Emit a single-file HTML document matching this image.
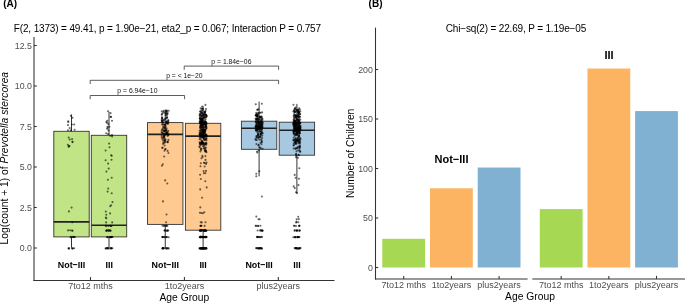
<!DOCTYPE html>
<html><head><meta charset="utf-8"><style>
html,body{margin:0;padding:0;background:#fff;width:685px;height:303px;overflow:hidden;}
svg{display:block;font-family:"Liberation Sans", sans-serif;will-change:transform;}
</style></head><body>
<svg width="685" height="303" viewBox="0 0 685 303">
<rect width="685" height="303" fill="#fff"/>
<text x="3.2" y="6.9" font-size="10" font-weight="bold">(A)</text>
<text x="368.6" y="7.3" font-size="10" font-weight="bold">(B)</text>
<text x="13.8" y="31.7" font-size="10" textLength="307.3" lengthAdjust="spacing">F(2, 1373) = 49.41, p = 1.90e−21, eta2_p = 0.067; Interaction P = 0.757</text>
<text x="516" y="31.5" font-size="10" text-anchor="middle" textLength="140.4" lengthAdjust="spacing">Chi−sq(2) = 22.69, P = 1.19e−05</text>
<line x1="34" y1="37" x2="34" y2="281" stroke="#333333" stroke-width="1.07"/>
<line x1="33.5" y1="280.5" x2="334.5" y2="280.5" stroke="#333333" stroke-width="1.07"/>
<line x1="34" y1="248.00" x2="36.8" y2="248.00" stroke="#333333" stroke-width="1.07"/>
<text x="31.9" y="251.10" font-size="8.8" fill="#4D4D4D" text-anchor="end">0.0</text>
<line x1="34" y1="207.50" x2="36.8" y2="207.50" stroke="#333333" stroke-width="1.07"/>
<text x="31.9" y="210.60" font-size="8.8" fill="#4D4D4D" text-anchor="end">2.5</text>
<line x1="34" y1="167.00" x2="36.8" y2="167.00" stroke="#333333" stroke-width="1.07"/>
<text x="31.9" y="170.10" font-size="8.8" fill="#4D4D4D" text-anchor="end">5.0</text>
<line x1="34" y1="126.50" x2="36.8" y2="126.50" stroke="#333333" stroke-width="1.07"/>
<text x="31.9" y="129.60" font-size="8.8" fill="#4D4D4D" text-anchor="end">7.5</text>
<line x1="34" y1="86.00" x2="36.8" y2="86.00" stroke="#333333" stroke-width="1.07"/>
<text x="31.9" y="89.10" font-size="8.8" fill="#4D4D4D" text-anchor="end">10.0</text>
<line x1="34" y1="45.50" x2="36.8" y2="45.50" stroke="#333333" stroke-width="1.07"/>
<text x="31.9" y="48.60" font-size="8.8" fill="#4D4D4D" text-anchor="end">12.5</text>
<line x1="90.5" y1="280.5" x2="90.5" y2="277.1" stroke="#333333" stroke-width="1.07"/>
<text transform="translate(90.5 288.8) scale(1 1.07)" font-size="9" fill="#4D4D4D" text-anchor="middle">7to12 mths</text>
<line x1="184.4" y1="280.5" x2="184.4" y2="277.1" stroke="#333333" stroke-width="1.07"/>
<text transform="translate(184.4 288.8) scale(1 1.07)" font-size="9" fill="#4D4D4D" text-anchor="middle">1to2years</text>
<line x1="278.3" y1="280.5" x2="278.3" y2="277.1" stroke="#333333" stroke-width="1.07"/>
<text transform="translate(278.3 288.8) scale(1 1.07)" font-size="9" fill="#4D4D4D" text-anchor="middle">plus2years</text>
<text x="184.4" y="300.9" font-size="10.3" text-anchor="middle">Age Group</text>
<text transform="translate(8.1 158.2) rotate(-90)" font-size="10.3" text-anchor="middle">Log(count + 1) of <tspan font-style="italic">Prevotella stercorea</tspan></text>
<line x1="71.5" y1="114.5" x2="71.5" y2="131.3" stroke="#333" stroke-width="1"/>
<line x1="71.5" y1="236.9" x2="71.5" y2="247.8" stroke="#333" stroke-width="1"/>
<rect x="53.80" y="131.3" width="35.40" height="105.60" fill="#C1E487" stroke="#333" stroke-width="0.9"/>
<line x1="53.80" y1="221.9" x2="89.20" y2="221.9" stroke="#222" stroke-width="1.6"/>
<line x1="109.0" y1="111.9" x2="109.0" y2="135.3" stroke="#333" stroke-width="1"/>
<line x1="109.0" y1="236.9" x2="109.0" y2="247.8" stroke="#333" stroke-width="1"/>
<rect x="91.30" y="135.3" width="35.40" height="101.60" fill="#C1E487" stroke="#333" stroke-width="0.9"/>
<line x1="91.30" y1="225.3" x2="126.70" y2="225.3" stroke="#222" stroke-width="1.6"/>
<line x1="165.25" y1="109.6" x2="165.25" y2="122.6" stroke="#333" stroke-width="1"/>
<line x1="165.25" y1="224.4" x2="165.25" y2="247.8" stroke="#333" stroke-width="1"/>
<rect x="147.55" y="122.6" width="35.40" height="101.80" fill="#FECA91" stroke="#333" stroke-width="0.9"/>
<line x1="147.55" y1="134.4" x2="182.95" y2="134.4" stroke="#222" stroke-width="1.6"/>
<line x1="203.1" y1="106.2" x2="203.1" y2="123.3" stroke="#333" stroke-width="1"/>
<line x1="203.1" y1="230.2" x2="203.1" y2="247.8" stroke="#333" stroke-width="1"/>
<rect x="185.40" y="123.3" width="35.40" height="106.90" fill="#FECA91" stroke="#333" stroke-width="0.9"/>
<line x1="185.40" y1="136.1" x2="220.80" y2="136.1" stroke="#222" stroke-width="1.6"/>
<line x1="259.1" y1="101.6" x2="259.1" y2="121.2" stroke="#333" stroke-width="1"/>
<line x1="259.1" y1="149.3" x2="259.1" y2="176.3" stroke="#333" stroke-width="1"/>
<rect x="241.40" y="121.2" width="35.40" height="28.10" fill="#A6C8E0" stroke="#333" stroke-width="0.9"/>
<line x1="241.40" y1="128.2" x2="276.80" y2="128.2" stroke="#222" stroke-width="1.6"/>
<line x1="296.9" y1="103.9" x2="296.9" y2="122.2" stroke="#333" stroke-width="1"/>
<line x1="296.9" y1="155.2" x2="296.9" y2="193.2" stroke="#333" stroke-width="1"/>
<rect x="279.20" y="122.2" width="35.40" height="33.00" fill="#A6C8E0" stroke="#333" stroke-width="0.9"/>
<line x1="279.20" y1="130.3" x2="314.60" y2="130.3" stroke="#222" stroke-width="1.6"/>
<g fill="#000" fill-opacity="0.58"><circle cx="72.8" cy="248.5" r="1.05"/><circle cx="69.1" cy="248.4" r="1.05"/><circle cx="68.7" cy="248.3" r="1.05"/><circle cx="72.5" cy="248.2" r="1.05"/><circle cx="74.2" cy="248.3" r="1.05"/><circle cx="72.1" cy="248.5" r="1.05"/><circle cx="68.7" cy="248.5" r="1.05"/><circle cx="72.4" cy="237.0" r="1.05"/><circle cx="73.6" cy="237.0" r="1.05"/><circle cx="75.0" cy="237.1" r="1.05"/><circle cx="70.5" cy="237.2" r="1.05"/><circle cx="71.1" cy="236.9" r="1.05"/><circle cx="73.3" cy="236.9" r="1.05"/><circle cx="73.8" cy="237.0" r="1.05"/><circle cx="72.5" cy="230.7" r="1.05"/><circle cx="72.1" cy="230.6" r="1.05"/><circle cx="70.2" cy="230.3" r="1.05"/><circle cx="68.1" cy="230.4" r="1.05"/><circle cx="72.3" cy="222.2" r="1.05"/><circle cx="71.6" cy="207.6" r="1.05"/><circle cx="68.9" cy="211.4" r="1.05"/><circle cx="72.6" cy="142.1" r="1.05"/><circle cx="67.9" cy="144.8" r="1.05"/><circle cx="68.7" cy="137.5" r="1.05"/><circle cx="69.5" cy="146.0" r="1.05"/><circle cx="72.1" cy="139.1" r="1.05"/><circle cx="72.4" cy="141.7" r="1.05"/><circle cx="68.9" cy="146.4" r="1.05"/><circle cx="69.7" cy="139.5" r="1.05"/><circle cx="68.6" cy="146.6" r="1.05"/><circle cx="74.2" cy="124.5" r="1.05"/><circle cx="70.8" cy="130.4" r="1.05"/><circle cx="68.0" cy="130.2" r="1.05"/><circle cx="71.9" cy="124.5" r="1.05"/><circle cx="72.5" cy="117.8" r="1.05"/><circle cx="74.6" cy="129.7" r="1.05"/><circle cx="69.7" cy="128.1" r="1.05"/><circle cx="68.2" cy="121.2" r="1.05"/><circle cx="70.8" cy="115.7" r="1.05"/><circle cx="68.3" cy="122.1" r="1.05"/><circle cx="68.0" cy="125.1" r="1.05"/><circle cx="112.4" cy="248.2" r="1.05"/><circle cx="107.0" cy="248.3" r="1.05"/><circle cx="109.3" cy="248.4" r="1.05"/><circle cx="111.5" cy="248.2" r="1.05"/><circle cx="107.8" cy="248.2" r="1.05"/><circle cx="105.9" cy="248.5" r="1.05"/><circle cx="111.2" cy="248.4" r="1.05"/><circle cx="105.6" cy="248.4" r="1.05"/><circle cx="111.0" cy="248.3" r="1.05"/><circle cx="110.9" cy="248.3" r="1.05"/><circle cx="107.2" cy="248.1" r="1.05"/><circle cx="107.3" cy="248.1" r="1.05"/><circle cx="108.0" cy="248.4" r="1.05"/><circle cx="110.6" cy="237.2" r="1.05"/><circle cx="110.7" cy="237.0" r="1.05"/><circle cx="109.6" cy="237.0" r="1.05"/><circle cx="111.3" cy="237.1" r="1.05"/><circle cx="107.5" cy="237.1" r="1.05"/><circle cx="112.5" cy="237.0" r="1.05"/><circle cx="111.9" cy="236.9" r="1.05"/><circle cx="107.5" cy="237.0" r="1.05"/><circle cx="111.0" cy="237.2" r="1.05"/><circle cx="111.0" cy="237.0" r="1.05"/><circle cx="111.9" cy="237.0" r="1.05"/><circle cx="107.3" cy="237.2" r="1.05"/><circle cx="110.1" cy="237.1" r="1.05"/><circle cx="110.4" cy="230.7" r="1.05"/><circle cx="109.0" cy="230.6" r="1.05"/><circle cx="110.6" cy="230.6" r="1.05"/><circle cx="108.7" cy="230.6" r="1.05"/><circle cx="109.7" cy="230.4" r="1.05"/><circle cx="107.1" cy="230.6" r="1.05"/><circle cx="106.2" cy="230.7" r="1.05"/><circle cx="106.6" cy="230.3" r="1.05"/><circle cx="106.4" cy="230.7" r="1.05"/><circle cx="108.1" cy="230.4" r="1.05"/><circle cx="105.8" cy="225.7" r="1.05"/><circle cx="110.6" cy="225.9" r="1.05"/><circle cx="110.6" cy="225.9" r="1.05"/><circle cx="106.1" cy="225.9" r="1.05"/><circle cx="108.2" cy="226.0" r="1.05"/><circle cx="111.5" cy="226.0" r="1.05"/><circle cx="106.1" cy="222.4" r="1.05"/><circle cx="112.2" cy="222.4" r="1.05"/><circle cx="106.4" cy="171.6" r="1.05"/><circle cx="106.4" cy="218.2" r="1.05"/><circle cx="111.7" cy="177.8" r="1.05"/><circle cx="110.2" cy="206.3" r="1.05"/><circle cx="110.1" cy="213.4" r="1.05"/><circle cx="106.3" cy="214.7" r="1.05"/><circle cx="111.1" cy="205.2" r="1.05"/><circle cx="107.9" cy="179.7" r="1.05"/><circle cx="105.8" cy="211.6" r="1.05"/><circle cx="107.6" cy="191.6" r="1.05"/><circle cx="108.2" cy="188.6" r="1.05"/><circle cx="112.5" cy="202.1" r="1.05"/><circle cx="111.7" cy="193.3" r="1.05"/><circle cx="105.8" cy="217.6" r="1.05"/><circle cx="108.7" cy="168.6" r="1.05"/><circle cx="108.1" cy="163.6" r="1.05"/><circle cx="109.5" cy="147.3" r="1.05"/><circle cx="111.8" cy="155.8" r="1.05"/><circle cx="111.5" cy="159.7" r="1.05"/><circle cx="105.6" cy="150.5" r="1.05"/><circle cx="111.1" cy="155.3" r="1.05"/><circle cx="105.6" cy="160.3" r="1.05"/><circle cx="109.1" cy="143.6" r="1.05"/><circle cx="106.9" cy="122.8" r="1.05"/><circle cx="108.1" cy="134.1" r="1.05"/><circle cx="107.5" cy="126.7" r="1.05"/><circle cx="107.6" cy="127.7" r="1.05"/><circle cx="110.6" cy="116.9" r="1.05"/><circle cx="106.4" cy="121.9" r="1.05"/><circle cx="106.2" cy="133.3" r="1.05"/><circle cx="110.6" cy="113.1" r="1.05"/><circle cx="110.1" cy="135.7" r="1.05"/><circle cx="108.5" cy="130.5" r="1.05"/><circle cx="112.0" cy="120.8" r="1.05"/><circle cx="112.0" cy="135.1" r="1.05"/><circle cx="107.1" cy="128.7" r="1.05"/><circle cx="112.1" cy="136.4" r="1.05"/><circle cx="108.3" cy="123.9" r="1.05"/><circle cx="107.3" cy="120.7" r="1.05"/><circle cx="109.4" cy="126.7" r="1.05"/><circle cx="111.0" cy="116.9" r="1.05"/><circle cx="108.1" cy="111.3" r="1.05"/><circle cx="162.8" cy="248.4" r="1.05"/><circle cx="166.4" cy="248.4" r="1.05"/><circle cx="162.9" cy="248.3" r="1.05"/><circle cx="167.2" cy="248.3" r="1.05"/><circle cx="162.6" cy="248.3" r="1.05"/><circle cx="168.0" cy="248.2" r="1.05"/><circle cx="163.0" cy="248.2" r="1.05"/><circle cx="166.7" cy="248.4" r="1.05"/><circle cx="162.8" cy="248.2" r="1.05"/><circle cx="163.4" cy="248.2" r="1.05"/><circle cx="165.4" cy="248.2" r="1.05"/><circle cx="164.0" cy="248.2" r="1.05"/><circle cx="168.7" cy="248.4" r="1.05"/><circle cx="162.4" cy="248.5" r="1.05"/><circle cx="162.4" cy="237.0" r="1.05"/><circle cx="168.7" cy="237.2" r="1.05"/><circle cx="166.9" cy="237.0" r="1.05"/><circle cx="163.1" cy="237.1" r="1.05"/><circle cx="162.4" cy="237.0" r="1.05"/><circle cx="164.4" cy="236.9" r="1.05"/><circle cx="164.5" cy="237.2" r="1.05"/><circle cx="166.6" cy="237.1" r="1.05"/><circle cx="166.2" cy="237.1" r="1.05"/><circle cx="162.7" cy="237.1" r="1.05"/><circle cx="164.6" cy="230.6" r="1.05"/><circle cx="168.2" cy="230.5" r="1.05"/><circle cx="165.8" cy="230.6" r="1.05"/><circle cx="164.7" cy="230.4" r="1.05"/><circle cx="166.8" cy="230.7" r="1.05"/><circle cx="167.2" cy="230.6" r="1.05"/><circle cx="167.8" cy="230.6" r="1.05"/><circle cx="166.3" cy="225.8" r="1.05"/><circle cx="163.9" cy="225.9" r="1.05"/><circle cx="162.4" cy="225.8" r="1.05"/><circle cx="167.3" cy="225.9" r="1.05"/><circle cx="166.2" cy="225.7" r="1.05"/><circle cx="164.7" cy="225.8" r="1.05"/><circle cx="166.1" cy="222.2" r="1.05"/><circle cx="166.5" cy="214.5" r="1.05"/><circle cx="163.0" cy="201.4" r="1.05"/><circle cx="167.3" cy="183.5" r="1.05"/><circle cx="165.2" cy="180.4" r="1.05"/><circle cx="161.9" cy="165.7" r="1.05"/><circle cx="162.8" cy="164.2" r="1.05"/><circle cx="168.4" cy="153.0" r="1.05"/><circle cx="162.4" cy="147.5" r="1.05"/><circle cx="165.5" cy="149.0" r="1.05"/><circle cx="165.3" cy="149.2" r="1.05"/><circle cx="167.6" cy="150.9" r="1.05"/><circle cx="164.6" cy="145.5" r="1.05"/><circle cx="163.2" cy="143.9" r="1.05"/><circle cx="164.5" cy="150.8" r="1.05"/><circle cx="162.5" cy="148.1" r="1.05"/><circle cx="164.2" cy="156.5" r="1.05"/><circle cx="163.6" cy="137.3" r="1.05"/><circle cx="161.7" cy="137.7" r="1.05"/><circle cx="164.7" cy="135.0" r="1.05"/><circle cx="164.2" cy="136.2" r="1.05"/><circle cx="163.3" cy="140.8" r="1.05"/><circle cx="168.4" cy="139.9" r="1.05"/><circle cx="163.2" cy="137.7" r="1.05"/><circle cx="164.5" cy="142.7" r="1.05"/><circle cx="162.6" cy="139.4" r="1.05"/><circle cx="167.5" cy="141.7" r="1.05"/><circle cx="165.0" cy="142.1" r="1.05"/><circle cx="163.3" cy="142.7" r="1.05"/><circle cx="164.2" cy="136.8" r="1.05"/><circle cx="167.5" cy="142.1" r="1.05"/><circle cx="165.0" cy="140.9" r="1.05"/><circle cx="165.6" cy="139.7" r="1.05"/><circle cx="167.7" cy="135.9" r="1.05"/><circle cx="167.8" cy="142.3" r="1.05"/><circle cx="164.4" cy="139.3" r="1.05"/><circle cx="164.7" cy="138.4" r="1.05"/><circle cx="161.7" cy="135.9" r="1.05"/><circle cx="163.7" cy="136.3" r="1.05"/><circle cx="163.8" cy="136.0" r="1.05"/><circle cx="164.7" cy="140.8" r="1.05"/><circle cx="166.4" cy="129.9" r="1.05"/><circle cx="168.3" cy="130.8" r="1.05"/><circle cx="162.1" cy="124.6" r="1.05"/><circle cx="168.2" cy="123.7" r="1.05"/><circle cx="162.7" cy="133.2" r="1.05"/><circle cx="166.2" cy="132.6" r="1.05"/><circle cx="161.7" cy="132.3" r="1.05"/><circle cx="166.4" cy="132.0" r="1.05"/><circle cx="162.4" cy="129.0" r="1.05"/><circle cx="163.3" cy="128.0" r="1.05"/><circle cx="164.1" cy="131.7" r="1.05"/><circle cx="168.2" cy="135.0" r="1.05"/><circle cx="162.9" cy="130.1" r="1.05"/><circle cx="166.0" cy="130.6" r="1.05"/><circle cx="166.5" cy="128.4" r="1.05"/><circle cx="167.3" cy="123.8" r="1.05"/><circle cx="163.1" cy="126.8" r="1.05"/><circle cx="165.5" cy="128.9" r="1.05"/><circle cx="164.8" cy="127.7" r="1.05"/><circle cx="165.6" cy="126.8" r="1.05"/><circle cx="163.3" cy="134.1" r="1.05"/><circle cx="165.2" cy="124.1" r="1.05"/><circle cx="165.0" cy="125.5" r="1.05"/><circle cx="165.2" cy="124.6" r="1.05"/><circle cx="165.5" cy="125.6" r="1.05"/><circle cx="161.7" cy="130.4" r="1.05"/><circle cx="165.0" cy="130.2" r="1.05"/><circle cx="166.4" cy="133.8" r="1.05"/><circle cx="164.3" cy="127.4" r="1.05"/><circle cx="168.6" cy="134.0" r="1.05"/><circle cx="166.2" cy="134.2" r="1.05"/><circle cx="161.9" cy="132.5" r="1.05"/><circle cx="166.6" cy="133.2" r="1.05"/><circle cx="164.0" cy="131.1" r="1.05"/><circle cx="165.3" cy="134.3" r="1.05"/><circle cx="168.1" cy="134.7" r="1.05"/><circle cx="166.8" cy="133.2" r="1.05"/><circle cx="164.1" cy="133.8" r="1.05"/><circle cx="164.3" cy="130.6" r="1.05"/><circle cx="165.4" cy="134.7" r="1.05"/><circle cx="163.2" cy="124.5" r="1.05"/><circle cx="164.7" cy="127.7" r="1.05"/><circle cx="167.6" cy="133.1" r="1.05"/><circle cx="167.6" cy="131.9" r="1.05"/><circle cx="165.3" cy="130.7" r="1.05"/><circle cx="165.3" cy="130.8" r="1.05"/><circle cx="166.4" cy="133.6" r="1.05"/><circle cx="164.0" cy="124.8" r="1.05"/><circle cx="163.8" cy="110.7" r="1.05"/><circle cx="166.2" cy="118.6" r="1.05"/><circle cx="161.9" cy="118.3" r="1.05"/><circle cx="168.0" cy="122.6" r="1.05"/><circle cx="162.0" cy="122.4" r="1.05"/><circle cx="161.7" cy="119.9" r="1.05"/><circle cx="168.3" cy="120.9" r="1.05"/><circle cx="166.4" cy="113.4" r="1.05"/><circle cx="168.2" cy="122.0" r="1.05"/><circle cx="166.1" cy="123.0" r="1.05"/><circle cx="166.7" cy="111.4" r="1.05"/><circle cx="166.6" cy="117.5" r="1.05"/><circle cx="166.5" cy="122.0" r="1.05"/><circle cx="167.1" cy="117.3" r="1.05"/><circle cx="163.0" cy="122.8" r="1.05"/><circle cx="167.2" cy="117.8" r="1.05"/><circle cx="166.4" cy="110.9" r="1.05"/><circle cx="167.6" cy="112.9" r="1.05"/><circle cx="165.7" cy="115.2" r="1.05"/><circle cx="163.8" cy="120.9" r="1.05"/><circle cx="163.9" cy="119.7" r="1.05"/><circle cx="166.3" cy="122.0" r="1.05"/><circle cx="162.0" cy="114.2" r="1.05"/><circle cx="161.9" cy="117.4" r="1.05"/><circle cx="167.5" cy="114.1" r="1.05"/><circle cx="168.3" cy="120.1" r="1.05"/><circle cx="161.8" cy="121.3" r="1.05"/><circle cx="165.9" cy="113.7" r="1.05"/><circle cx="168.7" cy="110.8" r="1.05"/><circle cx="164.6" cy="112.8" r="1.05"/><circle cx="166.3" cy="113.5" r="1.05"/><circle cx="162.7" cy="113.3" r="1.05"/><circle cx="161.7" cy="114.7" r="1.05"/><circle cx="162.5" cy="121.4" r="1.05"/><circle cx="162.3" cy="117.9" r="1.05"/><circle cx="162.6" cy="119.6" r="1.05"/><circle cx="166.8" cy="122.8" r="1.05"/><circle cx="166.9" cy="122.8" r="1.05"/><circle cx="162.0" cy="120.8" r="1.05"/><circle cx="166.8" cy="121.1" r="1.05"/><circle cx="166.9" cy="115.2" r="1.05"/><circle cx="166.2" cy="111.4" r="1.05"/><circle cx="165.0" cy="118.9" r="1.05"/><circle cx="163.5" cy="111.8" r="1.05"/><circle cx="166.8" cy="110.6" r="1.05"/><circle cx="161.8" cy="111.4" r="1.05"/><circle cx="205.4" cy="248.1" r="1.05"/><circle cx="201.7" cy="248.4" r="1.05"/><circle cx="200.7" cy="248.4" r="1.05"/><circle cx="203.0" cy="248.1" r="1.05"/><circle cx="202.1" cy="248.3" r="1.05"/><circle cx="202.7" cy="248.4" r="1.05"/><circle cx="200.5" cy="248.4" r="1.05"/><circle cx="202.1" cy="248.4" r="1.05"/><circle cx="204.0" cy="248.3" r="1.05"/><circle cx="202.3" cy="248.4" r="1.05"/><circle cx="206.3" cy="248.4" r="1.05"/><circle cx="203.6" cy="248.2" r="1.05"/><circle cx="199.9" cy="248.5" r="1.05"/><circle cx="204.6" cy="248.4" r="1.05"/><circle cx="201.9" cy="248.3" r="1.05"/><circle cx="206.5" cy="248.4" r="1.05"/><circle cx="203.8" cy="248.2" r="1.05"/><circle cx="202.6" cy="248.5" r="1.05"/><circle cx="202.2" cy="248.4" r="1.05"/><circle cx="203.8" cy="248.5" r="1.05"/><circle cx="205.3" cy="248.2" r="1.05"/><circle cx="199.5" cy="248.2" r="1.05"/><circle cx="202.5" cy="248.3" r="1.05"/><circle cx="205.4" cy="248.5" r="1.05"/><circle cx="199.8" cy="248.4" r="1.05"/><circle cx="205.3" cy="248.4" r="1.05"/><circle cx="203.6" cy="248.2" r="1.05"/><circle cx="205.6" cy="248.4" r="1.05"/><circle cx="204.4" cy="248.5" r="1.05"/><circle cx="202.0" cy="248.1" r="1.05"/><circle cx="203.5" cy="248.4" r="1.05"/><circle cx="200.9" cy="248.4" r="1.05"/><circle cx="206.2" cy="248.2" r="1.05"/><circle cx="203.9" cy="248.4" r="1.05"/><circle cx="202.9" cy="248.2" r="1.05"/><circle cx="201.3" cy="248.4" r="1.05"/><circle cx="205.2" cy="237.1" r="1.05"/><circle cx="200.1" cy="237.2" r="1.05"/><circle cx="205.1" cy="237.0" r="1.05"/><circle cx="203.7" cy="237.2" r="1.05"/><circle cx="205.9" cy="237.1" r="1.05"/><circle cx="202.9" cy="237.1" r="1.05"/><circle cx="200.9" cy="236.9" r="1.05"/><circle cx="200.8" cy="237.2" r="1.05"/><circle cx="202.1" cy="237.1" r="1.05"/><circle cx="202.4" cy="237.1" r="1.05"/><circle cx="200.6" cy="236.9" r="1.05"/><circle cx="206.7" cy="237.0" r="1.05"/><circle cx="200.3" cy="237.1" r="1.05"/><circle cx="205.2" cy="236.9" r="1.05"/><circle cx="203.8" cy="237.0" r="1.05"/><circle cx="203.2" cy="236.9" r="1.05"/><circle cx="199.7" cy="237.3" r="1.05"/><circle cx="205.7" cy="237.1" r="1.05"/><circle cx="203.6" cy="237.0" r="1.05"/><circle cx="205.1" cy="237.0" r="1.05"/><circle cx="206.3" cy="237.2" r="1.05"/><circle cx="205.4" cy="237.3" r="1.05"/><circle cx="201.3" cy="236.9" r="1.05"/><circle cx="200.9" cy="236.9" r="1.05"/><circle cx="200.1" cy="236.9" r="1.05"/><circle cx="203.5" cy="237.2" r="1.05"/><circle cx="202.8" cy="237.2" r="1.05"/><circle cx="206.1" cy="236.9" r="1.05"/><circle cx="203.8" cy="237.0" r="1.05"/><circle cx="200.4" cy="237.3" r="1.05"/><circle cx="201.4" cy="237.1" r="1.05"/><circle cx="204.1" cy="237.3" r="1.05"/><circle cx="204.3" cy="237.0" r="1.05"/><circle cx="202.7" cy="236.9" r="1.05"/><circle cx="206.5" cy="230.7" r="1.05"/><circle cx="201.1" cy="230.3" r="1.05"/><circle cx="201.3" cy="230.4" r="1.05"/><circle cx="206.0" cy="230.7" r="1.05"/><circle cx="205.5" cy="230.3" r="1.05"/><circle cx="205.2" cy="230.6" r="1.05"/><circle cx="204.2" cy="230.7" r="1.05"/><circle cx="199.9" cy="230.4" r="1.05"/><circle cx="204.9" cy="230.7" r="1.05"/><circle cx="204.4" cy="230.4" r="1.05"/><circle cx="203.8" cy="230.6" r="1.05"/><circle cx="200.3" cy="230.4" r="1.05"/><circle cx="201.4" cy="230.4" r="1.05"/><circle cx="203.0" cy="230.4" r="1.05"/><circle cx="201.2" cy="230.4" r="1.05"/><circle cx="204.4" cy="230.3" r="1.05"/><circle cx="204.7" cy="230.4" r="1.05"/><circle cx="199.8" cy="230.7" r="1.05"/><circle cx="201.1" cy="230.7" r="1.05"/><circle cx="205.7" cy="230.7" r="1.05"/><circle cx="200.5" cy="230.5" r="1.05"/><circle cx="200.2" cy="230.7" r="1.05"/><circle cx="205.6" cy="230.6" r="1.05"/><circle cx="202.8" cy="230.4" r="1.05"/><circle cx="205.4" cy="230.5" r="1.05"/><circle cx="204.0" cy="230.4" r="1.05"/><circle cx="201.1" cy="225.7" r="1.05"/><circle cx="204.6" cy="225.9" r="1.05"/><circle cx="200.5" cy="226.0" r="1.05"/><circle cx="201.4" cy="225.8" r="1.05"/><circle cx="200.6" cy="225.8" r="1.05"/><circle cx="205.5" cy="222.2" r="1.05"/><circle cx="200.7" cy="222.2" r="1.05"/><circle cx="201.8" cy="222.4" r="1.05"/><circle cx="200.3" cy="207.4" r="1.05"/><circle cx="199.9" cy="212.7" r="1.05"/><circle cx="204.3" cy="212.2" r="1.05"/><circle cx="202.9" cy="213.3" r="1.05"/><circle cx="201.4" cy="213.0" r="1.05"/><circle cx="202.1" cy="197.7" r="1.05"/><circle cx="206.7" cy="187.4" r="1.05"/><circle cx="200.2" cy="189.4" r="1.05"/><circle cx="206.0" cy="170.9" r="1.05"/><circle cx="204.7" cy="166.5" r="1.05"/><circle cx="206.5" cy="162.6" r="1.05"/><circle cx="205.3" cy="181.2" r="1.05"/><circle cx="200.5" cy="166.2" r="1.05"/><circle cx="205.5" cy="159.9" r="1.05"/><circle cx="200.8" cy="163.2" r="1.05"/><circle cx="206.1" cy="163.9" r="1.05"/><circle cx="203.6" cy="171.0" r="1.05"/><circle cx="200.8" cy="179.0" r="1.05"/><circle cx="204.6" cy="162.9" r="1.05"/><circle cx="200.1" cy="174.7" r="1.05"/><circle cx="203.9" cy="162.7" r="1.05"/><circle cx="201.5" cy="158.2" r="1.05"/><circle cx="203.9" cy="173.3" r="1.05"/><circle cx="205.3" cy="173.1" r="1.05"/><circle cx="201.0" cy="137.0" r="1.05"/><circle cx="204.8" cy="140.2" r="1.05"/><circle cx="204.7" cy="150.1" r="1.05"/><circle cx="205.3" cy="151.4" r="1.05"/><circle cx="205.6" cy="150.9" r="1.05"/><circle cx="203.0" cy="137.6" r="1.05"/><circle cx="206.1" cy="139.1" r="1.05"/><circle cx="205.8" cy="150.8" r="1.05"/><circle cx="200.8" cy="138.9" r="1.05"/><circle cx="202.1" cy="136.6" r="1.05"/><circle cx="202.2" cy="141.2" r="1.05"/><circle cx="199.5" cy="146.4" r="1.05"/><circle cx="202.7" cy="142.9" r="1.05"/><circle cx="200.4" cy="151.4" r="1.05"/><circle cx="205.4" cy="156.1" r="1.05"/><circle cx="201.8" cy="137.0" r="1.05"/><circle cx="202.2" cy="141.4" r="1.05"/><circle cx="199.9" cy="143.4" r="1.05"/><circle cx="206.4" cy="137.4" r="1.05"/><circle cx="203.2" cy="144.8" r="1.05"/><circle cx="203.4" cy="138.0" r="1.05"/><circle cx="206.5" cy="138.7" r="1.05"/><circle cx="200.8" cy="149.1" r="1.05"/><circle cx="201.3" cy="148.5" r="1.05"/><circle cx="199.7" cy="147.3" r="1.05"/><circle cx="204.5" cy="148.5" r="1.05"/><circle cx="199.6" cy="142.3" r="1.05"/><circle cx="203.7" cy="148.2" r="1.05"/><circle cx="204.6" cy="144.9" r="1.05"/><circle cx="205.8" cy="151.4" r="1.05"/><circle cx="199.8" cy="137.5" r="1.05"/><circle cx="203.1" cy="146.3" r="1.05"/><circle cx="201.5" cy="144.2" r="1.05"/><circle cx="202.4" cy="142.2" r="1.05"/><circle cx="203.8" cy="137.9" r="1.05"/><circle cx="200.6" cy="145.1" r="1.05"/><circle cx="204.9" cy="137.4" r="1.05"/><circle cx="205.4" cy="143.8" r="1.05"/><circle cx="202.3" cy="143.1" r="1.05"/><circle cx="205.5" cy="143.3" r="1.05"/><circle cx="202.3" cy="155.8" r="1.05"/><circle cx="205.1" cy="144.6" r="1.05"/><circle cx="201.2" cy="149.9" r="1.05"/><circle cx="202.6" cy="157.0" r="1.05"/><circle cx="205.3" cy="139.3" r="1.05"/><circle cx="205.4" cy="150.4" r="1.05"/><circle cx="199.9" cy="144.1" r="1.05"/><circle cx="206.4" cy="140.4" r="1.05"/><circle cx="201.3" cy="142.7" r="1.05"/><circle cx="204.1" cy="146.8" r="1.05"/><circle cx="203.3" cy="143.2" r="1.05"/><circle cx="202.6" cy="142.8" r="1.05"/><circle cx="199.6" cy="139.2" r="1.05"/><circle cx="206.5" cy="152.2" r="1.05"/><circle cx="206.2" cy="142.8" r="1.05"/><circle cx="205.3" cy="148.6" r="1.05"/><circle cx="205.9" cy="147.6" r="1.05"/><circle cx="204.1" cy="139.5" r="1.05"/><circle cx="204.4" cy="143.5" r="1.05"/><circle cx="203.4" cy="142.9" r="1.05"/><circle cx="204.0" cy="139.6" r="1.05"/><circle cx="203.2" cy="137.6" r="1.05"/><circle cx="206.3" cy="144.6" r="1.05"/><circle cx="201.7" cy="141.9" r="1.05"/><circle cx="200.4" cy="143.6" r="1.05"/><circle cx="206.4" cy="143.5" r="1.05"/><circle cx="201.4" cy="140.7" r="1.05"/><circle cx="203.3" cy="144.4" r="1.05"/><circle cx="200.4" cy="143.0" r="1.05"/><circle cx="201.6" cy="144.0" r="1.05"/><circle cx="201.6" cy="124.4" r="1.05"/><circle cx="200.1" cy="127.6" r="1.05"/><circle cx="205.5" cy="125.3" r="1.05"/><circle cx="203.6" cy="124.5" r="1.05"/><circle cx="200.9" cy="133.3" r="1.05"/><circle cx="202.8" cy="129.4" r="1.05"/><circle cx="203.9" cy="124.4" r="1.05"/><circle cx="201.7" cy="125.7" r="1.05"/><circle cx="201.1" cy="134.8" r="1.05"/><circle cx="202.3" cy="135.0" r="1.05"/><circle cx="199.6" cy="130.8" r="1.05"/><circle cx="205.7" cy="135.5" r="1.05"/><circle cx="203.5" cy="133.4" r="1.05"/><circle cx="201.6" cy="135.8" r="1.05"/><circle cx="201.6" cy="128.1" r="1.05"/><circle cx="200.6" cy="126.3" r="1.05"/><circle cx="205.8" cy="125.0" r="1.05"/><circle cx="199.9" cy="134.5" r="1.05"/><circle cx="202.7" cy="127.4" r="1.05"/><circle cx="200.3" cy="128.0" r="1.05"/><circle cx="206.4" cy="134.8" r="1.05"/><circle cx="200.6" cy="125.2" r="1.05"/><circle cx="202.0" cy="124.2" r="1.05"/><circle cx="203.9" cy="133.8" r="1.05"/><circle cx="205.4" cy="124.3" r="1.05"/><circle cx="204.8" cy="131.5" r="1.05"/><circle cx="205.0" cy="130.3" r="1.05"/><circle cx="205.2" cy="123.9" r="1.05"/><circle cx="206.1" cy="125.7" r="1.05"/><circle cx="205.8" cy="134.3" r="1.05"/><circle cx="205.0" cy="131.0" r="1.05"/><circle cx="203.1" cy="130.1" r="1.05"/><circle cx="203.6" cy="132.1" r="1.05"/><circle cx="205.1" cy="134.2" r="1.05"/><circle cx="203.9" cy="132.4" r="1.05"/><circle cx="202.8" cy="127.3" r="1.05"/><circle cx="204.7" cy="136.2" r="1.05"/><circle cx="202.3" cy="129.5" r="1.05"/><circle cx="202.3" cy="130.8" r="1.05"/><circle cx="205.2" cy="136.4" r="1.05"/><circle cx="203.1" cy="132.3" r="1.05"/><circle cx="200.8" cy="128.5" r="1.05"/><circle cx="200.5" cy="130.0" r="1.05"/><circle cx="203.7" cy="135.5" r="1.05"/><circle cx="206.1" cy="123.8" r="1.05"/><circle cx="205.6" cy="126.6" r="1.05"/><circle cx="206.4" cy="124.0" r="1.05"/><circle cx="202.6" cy="135.3" r="1.05"/><circle cx="199.6" cy="132.9" r="1.05"/><circle cx="203.6" cy="136.0" r="1.05"/><circle cx="206.1" cy="126.7" r="1.05"/><circle cx="203.4" cy="133.3" r="1.05"/><circle cx="203.2" cy="134.9" r="1.05"/><circle cx="204.4" cy="131.1" r="1.05"/><circle cx="202.1" cy="124.9" r="1.05"/><circle cx="202.0" cy="126.2" r="1.05"/><circle cx="204.4" cy="133.2" r="1.05"/><circle cx="200.2" cy="134.6" r="1.05"/><circle cx="202.4" cy="124.8" r="1.05"/><circle cx="203.6" cy="129.4" r="1.05"/><circle cx="206.4" cy="127.6" r="1.05"/><circle cx="202.7" cy="135.4" r="1.05"/><circle cx="206.7" cy="135.7" r="1.05"/><circle cx="203.3" cy="127.8" r="1.05"/><circle cx="200.7" cy="131.0" r="1.05"/><circle cx="206.5" cy="135.7" r="1.05"/><circle cx="203.2" cy="124.4" r="1.05"/><circle cx="205.9" cy="128.5" r="1.05"/><circle cx="205.4" cy="126.5" r="1.05"/><circle cx="205.9" cy="135.4" r="1.05"/><circle cx="200.6" cy="125.5" r="1.05"/><circle cx="203.2" cy="135.7" r="1.05"/><circle cx="200.9" cy="125.4" r="1.05"/><circle cx="204.0" cy="130.8" r="1.05"/><circle cx="202.0" cy="132.4" r="1.05"/><circle cx="204.1" cy="129.3" r="1.05"/><circle cx="202.5" cy="124.8" r="1.05"/><circle cx="201.7" cy="133.2" r="1.05"/><circle cx="199.5" cy="134.8" r="1.05"/><circle cx="205.6" cy="129.8" r="1.05"/><circle cx="204.3" cy="133.3" r="1.05"/><circle cx="203.1" cy="135.1" r="1.05"/><circle cx="201.4" cy="134.5" r="1.05"/><circle cx="203.3" cy="136.1" r="1.05"/><circle cx="203.6" cy="133.9" r="1.05"/><circle cx="200.4" cy="132.4" r="1.05"/><circle cx="205.0" cy="132.5" r="1.05"/><circle cx="200.2" cy="126.7" r="1.05"/><circle cx="203.3" cy="132.9" r="1.05"/><circle cx="203.9" cy="130.2" r="1.05"/><circle cx="199.9" cy="134.0" r="1.05"/><circle cx="205.0" cy="132.0" r="1.05"/><circle cx="204.7" cy="136.2" r="1.05"/><circle cx="200.7" cy="133.2" r="1.05"/><circle cx="200.2" cy="136.5" r="1.05"/><circle cx="203.7" cy="127.1" r="1.05"/><circle cx="202.7" cy="129.4" r="1.05"/><circle cx="199.9" cy="134.3" r="1.05"/><circle cx="203.7" cy="130.6" r="1.05"/><circle cx="202.7" cy="124.6" r="1.05"/><circle cx="201.3" cy="135.0" r="1.05"/><circle cx="206.2" cy="126.2" r="1.05"/><circle cx="201.8" cy="131.1" r="1.05"/><circle cx="205.4" cy="130.1" r="1.05"/><circle cx="203.8" cy="126.0" r="1.05"/><circle cx="203.1" cy="131.7" r="1.05"/><circle cx="201.2" cy="130.0" r="1.05"/><circle cx="204.7" cy="127.6" r="1.05"/><circle cx="201.7" cy="124.1" r="1.05"/><circle cx="203.0" cy="132.3" r="1.05"/><circle cx="201.3" cy="125.7" r="1.05"/><circle cx="202.1" cy="127.3" r="1.05"/><circle cx="206.5" cy="128.3" r="1.05"/><circle cx="203.5" cy="131.2" r="1.05"/><circle cx="203.3" cy="132.0" r="1.05"/><circle cx="202.4" cy="135.7" r="1.05"/><circle cx="200.4" cy="135.0" r="1.05"/><circle cx="202.0" cy="135.5" r="1.05"/><circle cx="200.9" cy="127.0" r="1.05"/><circle cx="201.2" cy="133.1" r="1.05"/><circle cx="204.3" cy="122.8" r="1.05"/><circle cx="200.6" cy="123.5" r="1.05"/><circle cx="200.2" cy="111.8" r="1.05"/><circle cx="205.5" cy="111.1" r="1.05"/><circle cx="202.7" cy="115.7" r="1.05"/><circle cx="205.3" cy="121.5" r="1.05"/><circle cx="202.0" cy="122.2" r="1.05"/><circle cx="202.2" cy="121.7" r="1.05"/><circle cx="201.0" cy="119.4" r="1.05"/><circle cx="203.1" cy="122.8" r="1.05"/><circle cx="202.8" cy="119.3" r="1.05"/><circle cx="204.6" cy="121.8" r="1.05"/><circle cx="206.0" cy="109.1" r="1.05"/><circle cx="202.1" cy="108.7" r="1.05"/><circle cx="203.9" cy="117.7" r="1.05"/><circle cx="205.8" cy="121.9" r="1.05"/><circle cx="203.2" cy="109.0" r="1.05"/><circle cx="201.4" cy="121.4" r="1.05"/><circle cx="202.3" cy="120.8" r="1.05"/><circle cx="203.6" cy="123.6" r="1.05"/><circle cx="202.3" cy="120.2" r="1.05"/><circle cx="200.8" cy="119.1" r="1.05"/><circle cx="201.8" cy="118.6" r="1.05"/><circle cx="200.3" cy="122.6" r="1.05"/><circle cx="202.1" cy="118.5" r="1.05"/><circle cx="201.6" cy="123.5" r="1.05"/><circle cx="201.7" cy="121.8" r="1.05"/><circle cx="200.4" cy="123.5" r="1.05"/><circle cx="201.5" cy="120.1" r="1.05"/><circle cx="206.0" cy="123.7" r="1.05"/><circle cx="205.9" cy="123.8" r="1.05"/><circle cx="200.5" cy="121.3" r="1.05"/><circle cx="199.7" cy="122.3" r="1.05"/><circle cx="204.3" cy="117.1" r="1.05"/><circle cx="202.5" cy="118.2" r="1.05"/><circle cx="204.5" cy="113.8" r="1.05"/><circle cx="205.6" cy="115.7" r="1.05"/><circle cx="204.0" cy="114.5" r="1.05"/><circle cx="200.3" cy="111.2" r="1.05"/><circle cx="204.8" cy="120.4" r="1.05"/><circle cx="199.8" cy="120.9" r="1.05"/><circle cx="200.7" cy="108.4" r="1.05"/><circle cx="201.7" cy="122.9" r="1.05"/><circle cx="199.8" cy="114.4" r="1.05"/><circle cx="204.1" cy="115.9" r="1.05"/><circle cx="205.5" cy="123.6" r="1.05"/><circle cx="204.7" cy="112.0" r="1.05"/><circle cx="202.6" cy="110.8" r="1.05"/><circle cx="202.0" cy="116.1" r="1.05"/><circle cx="205.5" cy="114.4" r="1.05"/><circle cx="201.6" cy="112.4" r="1.05"/><circle cx="205.6" cy="123.1" r="1.05"/><circle cx="199.8" cy="118.1" r="1.05"/><circle cx="200.3" cy="118.6" r="1.05"/><circle cx="201.0" cy="112.2" r="1.05"/><circle cx="204.9" cy="112.6" r="1.05"/><circle cx="204.5" cy="112.2" r="1.05"/><circle cx="204.9" cy="117.3" r="1.05"/><circle cx="201.5" cy="110.6" r="1.05"/><circle cx="206.3" cy="115.2" r="1.05"/><circle cx="206.2" cy="115.1" r="1.05"/><circle cx="204.8" cy="122.4" r="1.05"/><circle cx="204.0" cy="123.6" r="1.05"/><circle cx="199.9" cy="123.2" r="1.05"/><circle cx="202.6" cy="120.7" r="1.05"/><circle cx="206.2" cy="123.2" r="1.05"/><circle cx="205.0" cy="111.9" r="1.05"/><circle cx="204.6" cy="117.7" r="1.05"/><circle cx="201.4" cy="116.4" r="1.05"/><circle cx="206.5" cy="116.4" r="1.05"/><circle cx="203.4" cy="115.2" r="1.05"/><circle cx="199.9" cy="118.7" r="1.05"/><circle cx="202.5" cy="123.6" r="1.05"/><circle cx="201.7" cy="112.7" r="1.05"/><circle cx="204.6" cy="114.0" r="1.05"/><circle cx="201.2" cy="118.4" r="1.05"/><circle cx="203.2" cy="118.0" r="1.05"/><circle cx="206.2" cy="115.7" r="1.05"/><circle cx="201.7" cy="123.7" r="1.05"/><circle cx="200.5" cy="114.2" r="1.05"/><circle cx="201.9" cy="122.1" r="1.05"/><circle cx="203.4" cy="123.6" r="1.05"/><circle cx="200.7" cy="121.9" r="1.05"/><circle cx="203.8" cy="114.3" r="1.05"/><circle cx="205.0" cy="122.6" r="1.05"/><circle cx="200.3" cy="114.0" r="1.05"/><circle cx="202.1" cy="108.7" r="1.05"/><circle cx="199.9" cy="118.6" r="1.05"/><circle cx="200.9" cy="120.5" r="1.05"/><circle cx="202.7" cy="118.8" r="1.05"/><circle cx="201.8" cy="115.2" r="1.05"/><circle cx="202.1" cy="113.4" r="1.05"/><circle cx="200.0" cy="116.3" r="1.05"/><circle cx="206.6" cy="116.2" r="1.05"/><circle cx="200.1" cy="123.5" r="1.05"/><circle cx="206.6" cy="123.0" r="1.05"/><circle cx="200.3" cy="122.0" r="1.05"/><circle cx="202.6" cy="113.9" r="1.05"/><circle cx="203.4" cy="121.2" r="1.05"/><circle cx="206.1" cy="117.5" r="1.05"/><circle cx="204.0" cy="123.9" r="1.05"/><circle cx="204.2" cy="123.4" r="1.05"/><circle cx="201.3" cy="121.7" r="1.05"/><circle cx="199.7" cy="115.6" r="1.05"/><circle cx="205.5" cy="115.0" r="1.05"/><circle cx="200.8" cy="115.5" r="1.05"/><circle cx="205.6" cy="121.7" r="1.05"/><circle cx="200.7" cy="118.4" r="1.05"/><circle cx="205.5" cy="119.3" r="1.05"/><circle cx="201.9" cy="119.0" r="1.05"/><circle cx="205.4" cy="104.9" r="1.05"/><circle cx="202.2" cy="106.6" r="1.05"/><circle cx="258.2" cy="248.4" r="1.05"/><circle cx="257.2" cy="248.1" r="1.05"/><circle cx="259.6" cy="248.4" r="1.05"/><circle cx="261.4" cy="248.4" r="1.05"/><circle cx="262.0" cy="248.5" r="1.05"/><circle cx="259.1" cy="248.3" r="1.05"/><circle cx="256.6" cy="248.2" r="1.05"/><circle cx="259.7" cy="248.1" r="1.05"/><circle cx="260.5" cy="248.2" r="1.05"/><circle cx="258.7" cy="248.5" r="1.05"/><circle cx="256.1" cy="248.1" r="1.05"/><circle cx="258.7" cy="248.2" r="1.05"/><circle cx="260.7" cy="248.1" r="1.05"/><circle cx="261.6" cy="248.4" r="1.05"/><circle cx="261.2" cy="237.0" r="1.05"/><circle cx="257.5" cy="237.1" r="1.05"/><circle cx="259.2" cy="237.0" r="1.05"/><circle cx="257.9" cy="237.0" r="1.05"/><circle cx="260.3" cy="237.2" r="1.05"/><circle cx="262.0" cy="236.9" r="1.05"/><circle cx="257.6" cy="237.0" r="1.05"/><circle cx="259.6" cy="237.0" r="1.05"/><circle cx="256.9" cy="236.9" r="1.05"/><circle cx="257.8" cy="237.1" r="1.05"/><circle cx="262.5" cy="230.7" r="1.05"/><circle cx="261.7" cy="230.7" r="1.05"/><circle cx="262.4" cy="230.6" r="1.05"/><circle cx="261.3" cy="230.3" r="1.05"/><circle cx="260.4" cy="230.5" r="1.05"/><circle cx="257.6" cy="230.5" r="1.05"/><circle cx="262.4" cy="230.5" r="1.05"/><circle cx="260.2" cy="230.4" r="1.05"/><circle cx="258.0" cy="226.0" r="1.05"/><circle cx="255.7" cy="225.7" r="1.05"/><circle cx="260.4" cy="225.8" r="1.05"/><circle cx="256.1" cy="225.9" r="1.05"/><circle cx="258.2" cy="225.9" r="1.05"/><circle cx="258.5" cy="219.3" r="1.05"/><circle cx="259.6" cy="219.2" r="1.05"/><circle cx="256.3" cy="216.6" r="1.05"/><circle cx="261.9" cy="196.5" r="1.05"/><circle cx="256.3" cy="173.7" r="1.05"/><circle cx="257.3" cy="152.5" r="1.05"/><circle cx="259.3" cy="171.2" r="1.05"/><circle cx="259.0" cy="150.4" r="1.05"/><circle cx="257.1" cy="151.5" r="1.05"/><circle cx="256.3" cy="176.2" r="1.05"/><circle cx="259.7" cy="147.3" r="1.05"/><circle cx="258.4" cy="145.4" r="1.05"/><circle cx="258.7" cy="144.9" r="1.05"/><circle cx="259.5" cy="147.6" r="1.05"/><circle cx="260.9" cy="148.3" r="1.05"/><circle cx="262.6" cy="148.8" r="1.05"/><circle cx="256.2" cy="129.2" r="1.05"/><circle cx="258.3" cy="138.2" r="1.05"/><circle cx="262.4" cy="133.1" r="1.05"/><circle cx="261.1" cy="139.5" r="1.05"/><circle cx="261.1" cy="133.6" r="1.05"/><circle cx="257.2" cy="129.0" r="1.05"/><circle cx="255.6" cy="139.9" r="1.05"/><circle cx="257.0" cy="130.3" r="1.05"/><circle cx="260.6" cy="133.9" r="1.05"/><circle cx="261.9" cy="129.7" r="1.05"/><circle cx="261.8" cy="131.7" r="1.05"/><circle cx="262.1" cy="138.1" r="1.05"/><circle cx="256.7" cy="129.7" r="1.05"/><circle cx="258.0" cy="134.3" r="1.05"/><circle cx="260.4" cy="143.0" r="1.05"/><circle cx="256.4" cy="144.0" r="1.05"/><circle cx="260.8" cy="134.3" r="1.05"/><circle cx="260.7" cy="134.5" r="1.05"/><circle cx="259.8" cy="136.6" r="1.05"/><circle cx="259.5" cy="139.8" r="1.05"/><circle cx="256.3" cy="136.3" r="1.05"/><circle cx="260.4" cy="136.5" r="1.05"/><circle cx="256.9" cy="130.2" r="1.05"/><circle cx="261.5" cy="144.3" r="1.05"/><circle cx="256.3" cy="130.9" r="1.05"/><circle cx="256.3" cy="130.3" r="1.05"/><circle cx="256.8" cy="140.1" r="1.05"/><circle cx="257.6" cy="129.4" r="1.05"/><circle cx="258.2" cy="131.4" r="1.05"/><circle cx="261.8" cy="129.6" r="1.05"/><circle cx="260.5" cy="137.1" r="1.05"/><circle cx="262.3" cy="135.6" r="1.05"/><circle cx="258.0" cy="135.3" r="1.05"/><circle cx="259.1" cy="128.7" r="1.05"/><circle cx="261.3" cy="132.8" r="1.05"/><circle cx="256.8" cy="136.0" r="1.05"/><circle cx="260.4" cy="134.9" r="1.05"/><circle cx="258.9" cy="137.1" r="1.05"/><circle cx="261.6" cy="142.0" r="1.05"/><circle cx="261.8" cy="140.6" r="1.05"/><circle cx="256.0" cy="130.2" r="1.05"/><circle cx="257.1" cy="137.2" r="1.05"/><circle cx="259.7" cy="129.0" r="1.05"/><circle cx="256.7" cy="137.6" r="1.05"/><circle cx="258.9" cy="137.4" r="1.05"/><circle cx="258.3" cy="133.8" r="1.05"/><circle cx="255.5" cy="138.7" r="1.05"/><circle cx="257.9" cy="135.5" r="1.05"/><circle cx="258.8" cy="129.2" r="1.05"/><circle cx="255.8" cy="129.6" r="1.05"/><circle cx="260.3" cy="130.4" r="1.05"/><circle cx="257.5" cy="132.5" r="1.05"/><circle cx="257.4" cy="129.5" r="1.05"/><circle cx="259.3" cy="129.3" r="1.05"/><circle cx="262.6" cy="133.2" r="1.05"/><circle cx="259.5" cy="131.6" r="1.05"/><circle cx="261.8" cy="142.1" r="1.05"/><circle cx="260.1" cy="131.4" r="1.05"/><circle cx="258.1" cy="134.6" r="1.05"/><circle cx="261.2" cy="131.2" r="1.05"/><circle cx="262.3" cy="124.2" r="1.05"/><circle cx="257.7" cy="126.7" r="1.05"/><circle cx="260.8" cy="128.2" r="1.05"/><circle cx="260.1" cy="122.1" r="1.05"/><circle cx="259.5" cy="127.7" r="1.05"/><circle cx="255.9" cy="125.2" r="1.05"/><circle cx="257.8" cy="126.4" r="1.05"/><circle cx="259.0" cy="126.5" r="1.05"/><circle cx="257.3" cy="123.3" r="1.05"/><circle cx="258.0" cy="121.6" r="1.05"/><circle cx="255.6" cy="126.9" r="1.05"/><circle cx="258.8" cy="124.0" r="1.05"/><circle cx="259.6" cy="126.4" r="1.05"/><circle cx="256.7" cy="124.5" r="1.05"/><circle cx="257.7" cy="125.8" r="1.05"/><circle cx="260.7" cy="127.4" r="1.05"/><circle cx="262.2" cy="127.4" r="1.05"/><circle cx="262.1" cy="127.2" r="1.05"/><circle cx="256.1" cy="122.1" r="1.05"/><circle cx="259.7" cy="125.3" r="1.05"/><circle cx="258.1" cy="127.2" r="1.05"/><circle cx="258.6" cy="122.4" r="1.05"/><circle cx="256.0" cy="121.6" r="1.05"/><circle cx="262.0" cy="125.4" r="1.05"/><circle cx="257.4" cy="127.4" r="1.05"/><circle cx="256.7" cy="127.1" r="1.05"/><circle cx="260.6" cy="127.8" r="1.05"/><circle cx="258.4" cy="126.1" r="1.05"/><circle cx="259.8" cy="128.1" r="1.05"/><circle cx="260.2" cy="126.8" r="1.05"/><circle cx="260.8" cy="127.0" r="1.05"/><circle cx="259.8" cy="124.4" r="1.05"/><circle cx="261.3" cy="122.6" r="1.05"/><circle cx="258.0" cy="123.2" r="1.05"/><circle cx="256.9" cy="125.7" r="1.05"/><circle cx="261.8" cy="125.8" r="1.05"/><circle cx="262.1" cy="124.8" r="1.05"/><circle cx="257.9" cy="126.1" r="1.05"/><circle cx="260.2" cy="126.2" r="1.05"/><circle cx="260.4" cy="128.1" r="1.05"/><circle cx="255.9" cy="126.6" r="1.05"/><circle cx="255.8" cy="121.9" r="1.05"/><circle cx="257.9" cy="127.7" r="1.05"/><circle cx="259.8" cy="125.0" r="1.05"/><circle cx="258.8" cy="124.0" r="1.05"/><circle cx="262.2" cy="122.6" r="1.05"/><circle cx="262.6" cy="126.9" r="1.05"/><circle cx="259.9" cy="126.8" r="1.05"/><circle cx="257.9" cy="126.7" r="1.05"/><circle cx="256.6" cy="125.7" r="1.05"/><circle cx="261.0" cy="125.3" r="1.05"/><circle cx="261.4" cy="121.9" r="1.05"/><circle cx="259.4" cy="122.7" r="1.05"/><circle cx="259.5" cy="122.6" r="1.05"/><circle cx="259.8" cy="128.4" r="1.05"/><circle cx="260.8" cy="128.3" r="1.05"/><circle cx="260.6" cy="123.7" r="1.05"/><circle cx="261.1" cy="122.3" r="1.05"/><circle cx="261.1" cy="125.5" r="1.05"/><circle cx="258.8" cy="124.4" r="1.05"/><circle cx="259.3" cy="128.8" r="1.05"/><circle cx="256.4" cy="125.7" r="1.05"/><circle cx="258.9" cy="122.2" r="1.05"/><circle cx="261.1" cy="122.8" r="1.05"/><circle cx="262.6" cy="122.5" r="1.05"/><circle cx="260.9" cy="121.6" r="1.05"/><circle cx="255.7" cy="126.7" r="1.05"/><circle cx="255.9" cy="127.8" r="1.05"/><circle cx="259.5" cy="127.4" r="1.05"/><circle cx="262.3" cy="124.9" r="1.05"/><circle cx="256.6" cy="123.7" r="1.05"/><circle cx="260.8" cy="122.2" r="1.05"/><circle cx="256.7" cy="123.4" r="1.05"/><circle cx="261.1" cy="124.0" r="1.05"/><circle cx="262.6" cy="123.3" r="1.05"/><circle cx="260.1" cy="117.3" r="1.05"/><circle cx="261.3" cy="116.4" r="1.05"/><circle cx="257.8" cy="121.4" r="1.05"/><circle cx="256.3" cy="114.4" r="1.05"/><circle cx="256.0" cy="119.5" r="1.05"/><circle cx="258.4" cy="113.1" r="1.05"/><circle cx="255.9" cy="115.6" r="1.05"/><circle cx="258.5" cy="118.9" r="1.05"/><circle cx="262.3" cy="120.5" r="1.05"/><circle cx="257.1" cy="119.2" r="1.05"/><circle cx="257.4" cy="115.6" r="1.05"/><circle cx="257.2" cy="114.9" r="1.05"/><circle cx="261.0" cy="120.6" r="1.05"/><circle cx="257.6" cy="121.2" r="1.05"/><circle cx="257.1" cy="116.7" r="1.05"/><circle cx="256.6" cy="116.3" r="1.05"/><circle cx="261.8" cy="117.9" r="1.05"/><circle cx="260.9" cy="119.6" r="1.05"/><circle cx="257.5" cy="115.9" r="1.05"/><circle cx="259.0" cy="121.7" r="1.05"/><circle cx="256.7" cy="118.9" r="1.05"/><circle cx="259.8" cy="117.3" r="1.05"/><circle cx="259.7" cy="112.8" r="1.05"/><circle cx="257.0" cy="115.7" r="1.05"/><circle cx="258.1" cy="113.4" r="1.05"/><circle cx="261.7" cy="117.0" r="1.05"/><circle cx="261.7" cy="119.6" r="1.05"/><circle cx="257.6" cy="119.1" r="1.05"/><circle cx="256.3" cy="112.8" r="1.05"/><circle cx="255.6" cy="115.2" r="1.05"/><circle cx="256.6" cy="118.8" r="1.05"/><circle cx="256.2" cy="121.3" r="1.05"/><circle cx="260.4" cy="116.8" r="1.05"/><circle cx="257.9" cy="115.4" r="1.05"/><circle cx="260.7" cy="117.8" r="1.05"/><circle cx="262.6" cy="119.0" r="1.05"/><circle cx="257.2" cy="115.5" r="1.05"/><circle cx="260.5" cy="112.7" r="1.05"/><circle cx="259.1" cy="119.4" r="1.05"/><circle cx="258.6" cy="121.1" r="1.05"/><circle cx="255.6" cy="118.6" r="1.05"/><circle cx="257.8" cy="117.8" r="1.05"/><circle cx="256.4" cy="115.2" r="1.05"/><circle cx="256.5" cy="119.7" r="1.05"/><circle cx="256.8" cy="114.2" r="1.05"/><circle cx="256.6" cy="114.8" r="1.05"/><circle cx="259.1" cy="116.7" r="1.05"/><circle cx="258.0" cy="119.7" r="1.05"/><circle cx="262.1" cy="112.4" r="1.05"/><circle cx="257.0" cy="118.9" r="1.05"/><circle cx="261.9" cy="103.8" r="1.05"/><circle cx="257.5" cy="109.7" r="1.05"/><circle cx="257.4" cy="109.8" r="1.05"/><circle cx="255.8" cy="104.3" r="1.05"/><circle cx="258.4" cy="109.2" r="1.05"/><circle cx="295.9" cy="248.1" r="1.05"/><circle cx="298.3" cy="248.4" r="1.05"/><circle cx="297.2" cy="248.3" r="1.05"/><circle cx="298.3" cy="248.5" r="1.05"/><circle cx="299.6" cy="248.4" r="1.05"/><circle cx="296.2" cy="248.2" r="1.05"/><circle cx="296.3" cy="248.5" r="1.05"/><circle cx="296.1" cy="248.3" r="1.05"/><circle cx="296.3" cy="248.2" r="1.05"/><circle cx="300.5" cy="248.1" r="1.05"/><circle cx="297.7" cy="248.5" r="1.05"/><circle cx="295.1" cy="248.3" r="1.05"/><circle cx="296.0" cy="248.2" r="1.05"/><circle cx="294.7" cy="248.1" r="1.05"/><circle cx="299.4" cy="248.4" r="1.05"/><circle cx="299.8" cy="248.1" r="1.05"/><circle cx="298.3" cy="237.0" r="1.05"/><circle cx="298.0" cy="237.1" r="1.05"/><circle cx="295.6" cy="237.3" r="1.05"/><circle cx="293.3" cy="237.2" r="1.05"/><circle cx="299.4" cy="237.1" r="1.05"/><circle cx="297.6" cy="237.3" r="1.05"/><circle cx="295.0" cy="237.1" r="1.05"/><circle cx="298.7" cy="237.0" r="1.05"/><circle cx="298.4" cy="237.0" r="1.05"/><circle cx="297.1" cy="237.1" r="1.05"/><circle cx="298.2" cy="237.0" r="1.05"/><circle cx="297.8" cy="237.1" r="1.05"/><circle cx="294.9" cy="237.1" r="1.05"/><circle cx="295.2" cy="237.2" r="1.05"/><circle cx="296.7" cy="230.6" r="1.05"/><circle cx="297.1" cy="230.5" r="1.05"/><circle cx="294.9" cy="230.4" r="1.05"/><circle cx="300.0" cy="230.5" r="1.05"/><circle cx="297.1" cy="230.5" r="1.05"/><circle cx="299.2" cy="230.4" r="1.05"/><circle cx="294.5" cy="230.6" r="1.05"/><circle cx="296.6" cy="230.6" r="1.05"/><circle cx="299.3" cy="230.7" r="1.05"/><circle cx="299.5" cy="225.7" r="1.05"/><circle cx="296.0" cy="226.0" r="1.05"/><circle cx="299.2" cy="225.7" r="1.05"/><circle cx="294.4" cy="225.7" r="1.05"/><circle cx="294.0" cy="225.8" r="1.05"/><circle cx="299.1" cy="225.9" r="1.05"/><circle cx="296.6" cy="222.1" r="1.05"/><circle cx="296.1" cy="222.4" r="1.05"/><circle cx="298.3" cy="222.2" r="1.05"/><circle cx="296.7" cy="219.4" r="1.05"/><circle cx="298.8" cy="219.1" r="1.05"/><circle cx="298.2" cy="216.7" r="1.05"/><circle cx="297.0" cy="193.1" r="1.05"/><circle cx="296.0" cy="192.3" r="1.05"/><circle cx="296.0" cy="157.3" r="1.05"/><circle cx="294.7" cy="174.9" r="1.05"/><circle cx="293.7" cy="186.4" r="1.05"/><circle cx="298.5" cy="185.1" r="1.05"/><circle cx="295.6" cy="177.7" r="1.05"/><circle cx="299.3" cy="168.2" r="1.05"/><circle cx="297.9" cy="157.7" r="1.05"/><circle cx="294.8" cy="188.1" r="1.05"/><circle cx="299.0" cy="178.8" r="1.05"/><circle cx="296.0" cy="154.5" r="1.05"/><circle cx="296.5" cy="151.2" r="1.05"/><circle cx="298.4" cy="154.9" r="1.05"/><circle cx="296.2" cy="155.5" r="1.05"/><circle cx="299.1" cy="155.3" r="1.05"/><circle cx="296.1" cy="153.9" r="1.05"/><circle cx="300.0" cy="151.4" r="1.05"/><circle cx="300.3" cy="151.7" r="1.05"/><circle cx="296.0" cy="134.2" r="1.05"/><circle cx="295.7" cy="130.5" r="1.05"/><circle cx="298.7" cy="131.5" r="1.05"/><circle cx="297.1" cy="140.6" r="1.05"/><circle cx="299.8" cy="143.8" r="1.05"/><circle cx="293.5" cy="131.5" r="1.05"/><circle cx="296.6" cy="134.0" r="1.05"/><circle cx="299.3" cy="148.5" r="1.05"/><circle cx="296.7" cy="135.3" r="1.05"/><circle cx="296.5" cy="139.7" r="1.05"/><circle cx="297.0" cy="139.9" r="1.05"/><circle cx="298.1" cy="140.7" r="1.05"/><circle cx="296.2" cy="143.9" r="1.05"/><circle cx="298.2" cy="150.5" r="1.05"/><circle cx="298.8" cy="141.7" r="1.05"/><circle cx="294.2" cy="140.1" r="1.05"/><circle cx="293.9" cy="131.4" r="1.05"/><circle cx="294.0" cy="145.1" r="1.05"/><circle cx="298.7" cy="131.2" r="1.05"/><circle cx="293.7" cy="143.2" r="1.05"/><circle cx="298.4" cy="140.1" r="1.05"/><circle cx="293.7" cy="133.0" r="1.05"/><circle cx="296.3" cy="133.0" r="1.05"/><circle cx="300.5" cy="138.9" r="1.05"/><circle cx="299.6" cy="147.6" r="1.05"/><circle cx="295.7" cy="138.1" r="1.05"/><circle cx="293.3" cy="140.0" r="1.05"/><circle cx="295.3" cy="131.6" r="1.05"/><circle cx="295.6" cy="143.4" r="1.05"/><circle cx="299.5" cy="140.0" r="1.05"/><circle cx="297.0" cy="131.9" r="1.05"/><circle cx="293.7" cy="148.5" r="1.05"/><circle cx="299.5" cy="139.3" r="1.05"/><circle cx="299.5" cy="133.0" r="1.05"/><circle cx="294.8" cy="133.5" r="1.05"/><circle cx="297.2" cy="148.1" r="1.05"/><circle cx="296.6" cy="148.4" r="1.05"/><circle cx="297.5" cy="147.2" r="1.05"/><circle cx="299.1" cy="131.6" r="1.05"/><circle cx="299.9" cy="142.1" r="1.05"/><circle cx="293.7" cy="133.9" r="1.05"/><circle cx="297.1" cy="131.9" r="1.05"/><circle cx="297.4" cy="140.4" r="1.05"/><circle cx="295.3" cy="141.9" r="1.05"/><circle cx="295.4" cy="131.3" r="1.05"/><circle cx="299.1" cy="135.9" r="1.05"/><circle cx="296.6" cy="142.1" r="1.05"/><circle cx="296.5" cy="134.5" r="1.05"/><circle cx="293.7" cy="140.8" r="1.05"/><circle cx="297.9" cy="141.5" r="1.05"/><circle cx="299.5" cy="150.2" r="1.05"/><circle cx="297.6" cy="133.7" r="1.05"/><circle cx="299.9" cy="131.8" r="1.05"/><circle cx="299.1" cy="135.6" r="1.05"/><circle cx="298.2" cy="131.5" r="1.05"/><circle cx="295.4" cy="148.8" r="1.05"/><circle cx="299.3" cy="142.4" r="1.05"/><circle cx="299.9" cy="137.9" r="1.05"/><circle cx="294.0" cy="131.1" r="1.05"/><circle cx="298.9" cy="131.4" r="1.05"/><circle cx="296.3" cy="139.6" r="1.05"/><circle cx="295.2" cy="142.4" r="1.05"/><circle cx="298.2" cy="138.7" r="1.05"/><circle cx="293.7" cy="137.8" r="1.05"/><circle cx="293.6" cy="131.7" r="1.05"/><circle cx="295.4" cy="143.6" r="1.05"/><circle cx="297.5" cy="133.1" r="1.05"/><circle cx="297.3" cy="133.9" r="1.05"/><circle cx="299.9" cy="132.9" r="1.05"/><circle cx="299.4" cy="133.5" r="1.05"/><circle cx="299.1" cy="136.2" r="1.05"/><circle cx="296.1" cy="140.5" r="1.05"/><circle cx="296.0" cy="140.9" r="1.05"/><circle cx="294.9" cy="140.0" r="1.05"/><circle cx="294.0" cy="133.5" r="1.05"/><circle cx="298.5" cy="146.6" r="1.05"/><circle cx="298.2" cy="143.2" r="1.05"/><circle cx="299.3" cy="133.7" r="1.05"/><circle cx="299.9" cy="142.5" r="1.05"/><circle cx="300.1" cy="147.2" r="1.05"/><circle cx="295.4" cy="148.4" r="1.05"/><circle cx="298.7" cy="136.8" r="1.05"/><circle cx="300.0" cy="140.5" r="1.05"/><circle cx="296.8" cy="131.1" r="1.05"/><circle cx="297.6" cy="132.2" r="1.05"/><circle cx="293.9" cy="130.7" r="1.05"/><circle cx="295.3" cy="142.1" r="1.05"/><circle cx="299.4" cy="146.4" r="1.05"/><circle cx="300.0" cy="145.9" r="1.05"/><circle cx="297.6" cy="137.8" r="1.05"/><circle cx="295.8" cy="134.7" r="1.05"/><circle cx="298.0" cy="138.3" r="1.05"/><circle cx="295.7" cy="142.5" r="1.05"/><circle cx="295.1" cy="139.1" r="1.05"/><circle cx="294.6" cy="135.9" r="1.05"/><circle cx="295.4" cy="134.8" r="1.05"/><circle cx="297.3" cy="133.8" r="1.05"/><circle cx="297.3" cy="132.7" r="1.05"/><circle cx="297.6" cy="135.1" r="1.05"/><circle cx="293.5" cy="145.4" r="1.05"/><circle cx="294.0" cy="123.9" r="1.05"/><circle cx="294.3" cy="128.3" r="1.05"/><circle cx="295.8" cy="126.0" r="1.05"/><circle cx="298.1" cy="127.5" r="1.05"/><circle cx="294.5" cy="124.9" r="1.05"/><circle cx="295.7" cy="129.2" r="1.05"/><circle cx="299.6" cy="128.7" r="1.05"/><circle cx="294.4" cy="128.5" r="1.05"/><circle cx="299.6" cy="129.3" r="1.05"/><circle cx="296.9" cy="123.5" r="1.05"/><circle cx="294.1" cy="126.0" r="1.05"/><circle cx="294.5" cy="128.1" r="1.05"/><circle cx="296.9" cy="127.4" r="1.05"/><circle cx="294.7" cy="122.6" r="1.05"/><circle cx="294.8" cy="126.4" r="1.05"/><circle cx="295.0" cy="129.0" r="1.05"/><circle cx="296.9" cy="124.3" r="1.05"/><circle cx="293.4" cy="125.6" r="1.05"/><circle cx="296.8" cy="122.8" r="1.05"/><circle cx="297.4" cy="129.9" r="1.05"/><circle cx="295.0" cy="126.9" r="1.05"/><circle cx="294.4" cy="124.0" r="1.05"/><circle cx="293.5" cy="123.8" r="1.05"/><circle cx="297.0" cy="123.2" r="1.05"/><circle cx="299.7" cy="130.2" r="1.05"/><circle cx="297.5" cy="128.2" r="1.05"/><circle cx="297.6" cy="129.8" r="1.05"/><circle cx="298.4" cy="129.0" r="1.05"/><circle cx="295.1" cy="122.8" r="1.05"/><circle cx="300.4" cy="125.8" r="1.05"/><circle cx="297.8" cy="123.2" r="1.05"/><circle cx="299.2" cy="127.6" r="1.05"/><circle cx="299.1" cy="123.7" r="1.05"/><circle cx="299.9" cy="126.9" r="1.05"/><circle cx="300.1" cy="128.5" r="1.05"/><circle cx="296.2" cy="124.2" r="1.05"/><circle cx="295.1" cy="123.1" r="1.05"/><circle cx="298.2" cy="129.7" r="1.05"/><circle cx="295.8" cy="125.7" r="1.05"/><circle cx="294.7" cy="125.6" r="1.05"/><circle cx="295.7" cy="129.1" r="1.05"/><circle cx="300.5" cy="127.8" r="1.05"/><circle cx="296.8" cy="129.5" r="1.05"/><circle cx="298.9" cy="129.2" r="1.05"/><circle cx="298.7" cy="128.7" r="1.05"/><circle cx="294.7" cy="125.9" r="1.05"/><circle cx="299.4" cy="125.5" r="1.05"/><circle cx="294.0" cy="129.1" r="1.05"/><circle cx="295.8" cy="130.5" r="1.05"/><circle cx="300.3" cy="128.1" r="1.05"/><circle cx="298.7" cy="125.0" r="1.05"/><circle cx="299.3" cy="129.4" r="1.05"/><circle cx="299.8" cy="128.3" r="1.05"/><circle cx="299.3" cy="129.2" r="1.05"/><circle cx="297.6" cy="124.2" r="1.05"/><circle cx="299.2" cy="126.4" r="1.05"/><circle cx="299.6" cy="130.1" r="1.05"/><circle cx="300.2" cy="129.9" r="1.05"/><circle cx="300.1" cy="127.3" r="1.05"/><circle cx="300.3" cy="126.3" r="1.05"/><circle cx="295.1" cy="125.6" r="1.05"/><circle cx="295.0" cy="129.8" r="1.05"/><circle cx="296.6" cy="129.3" r="1.05"/><circle cx="296.8" cy="125.2" r="1.05"/><circle cx="298.2" cy="127.5" r="1.05"/><circle cx="296.1" cy="128.5" r="1.05"/><circle cx="299.0" cy="128.3" r="1.05"/><circle cx="300.1" cy="123.1" r="1.05"/><circle cx="296.2" cy="128.0" r="1.05"/><circle cx="298.0" cy="126.2" r="1.05"/><circle cx="295.7" cy="127.8" r="1.05"/><circle cx="299.3" cy="127.4" r="1.05"/><circle cx="293.3" cy="123.7" r="1.05"/><circle cx="293.4" cy="122.5" r="1.05"/><circle cx="299.1" cy="127.7" r="1.05"/><circle cx="297.7" cy="129.1" r="1.05"/><circle cx="295.7" cy="124.7" r="1.05"/><circle cx="295.8" cy="129.2" r="1.05"/><circle cx="297.8" cy="130.6" r="1.05"/><circle cx="293.9" cy="123.3" r="1.05"/><circle cx="298.3" cy="127.2" r="1.05"/><circle cx="298.1" cy="124.2" r="1.05"/><circle cx="294.2" cy="127.5" r="1.05"/><circle cx="293.6" cy="123.7" r="1.05"/><circle cx="294.6" cy="126.9" r="1.05"/><circle cx="300.2" cy="129.3" r="1.05"/><circle cx="294.9" cy="130.7" r="1.05"/><circle cx="297.7" cy="126.4" r="1.05"/><circle cx="296.1" cy="125.5" r="1.05"/><circle cx="300.2" cy="123.3" r="1.05"/><circle cx="300.4" cy="129.8" r="1.05"/><circle cx="299.3" cy="125.5" r="1.05"/><circle cx="297.1" cy="127.5" r="1.05"/><circle cx="294.6" cy="126.8" r="1.05"/><circle cx="296.6" cy="129.6" r="1.05"/><circle cx="295.1" cy="128.3" r="1.05"/><circle cx="294.0" cy="126.5" r="1.05"/><circle cx="299.5" cy="123.2" r="1.05"/><circle cx="296.0" cy="130.0" r="1.05"/><circle cx="299.7" cy="126.8" r="1.05"/><circle cx="293.8" cy="124.2" r="1.05"/><circle cx="296.5" cy="123.0" r="1.05"/><circle cx="295.9" cy="129.2" r="1.05"/><circle cx="297.8" cy="129.6" r="1.05"/><circle cx="297.1" cy="123.1" r="1.05"/><circle cx="299.8" cy="122.8" r="1.05"/><circle cx="295.9" cy="127.0" r="1.05"/><circle cx="293.7" cy="130.4" r="1.05"/><circle cx="298.2" cy="123.2" r="1.05"/><circle cx="296.5" cy="127.6" r="1.05"/><circle cx="299.7" cy="123.5" r="1.05"/><circle cx="298.7" cy="125.5" r="1.05"/><circle cx="295.6" cy="123.9" r="1.05"/><circle cx="300.2" cy="129.5" r="1.05"/><circle cx="294.3" cy="124.4" r="1.05"/><circle cx="297.5" cy="119.4" r="1.05"/><circle cx="296.1" cy="117.2" r="1.05"/><circle cx="297.9" cy="111.0" r="1.05"/><circle cx="298.8" cy="111.2" r="1.05"/><circle cx="297.2" cy="120.1" r="1.05"/><circle cx="300.3" cy="119.7" r="1.05"/><circle cx="299.1" cy="117.2" r="1.05"/><circle cx="296.0" cy="115.7" r="1.05"/><circle cx="298.4" cy="117.4" r="1.05"/><circle cx="295.3" cy="120.8" r="1.05"/><circle cx="297.4" cy="119.4" r="1.05"/><circle cx="299.0" cy="112.7" r="1.05"/><circle cx="294.3" cy="110.4" r="1.05"/><circle cx="299.6" cy="121.9" r="1.05"/><circle cx="298.6" cy="114.8" r="1.05"/><circle cx="295.5" cy="112.1" r="1.05"/><circle cx="295.4" cy="122.0" r="1.05"/><circle cx="300.3" cy="111.4" r="1.05"/><circle cx="294.6" cy="120.9" r="1.05"/><circle cx="300.1" cy="114.3" r="1.05"/><circle cx="295.6" cy="115.1" r="1.05"/><circle cx="294.1" cy="114.0" r="1.05"/><circle cx="296.1" cy="118.4" r="1.05"/><circle cx="300.2" cy="116.8" r="1.05"/><circle cx="294.8" cy="114.8" r="1.05"/><circle cx="296.5" cy="116.9" r="1.05"/><circle cx="297.9" cy="113.7" r="1.05"/><circle cx="295.6" cy="116.4" r="1.05"/><circle cx="298.8" cy="116.6" r="1.05"/><circle cx="297.3" cy="122.3" r="1.05"/><circle cx="298.7" cy="114.1" r="1.05"/><circle cx="295.9" cy="116.1" r="1.05"/><circle cx="297.1" cy="119.3" r="1.05"/><circle cx="297.8" cy="112.1" r="1.05"/><circle cx="298.9" cy="111.8" r="1.05"/><circle cx="299.3" cy="116.4" r="1.05"/><circle cx="295.8" cy="120.3" r="1.05"/><circle cx="295.2" cy="116.0" r="1.05"/><circle cx="293.8" cy="121.2" r="1.05"/><circle cx="298.7" cy="120.9" r="1.05"/><circle cx="296.3" cy="116.9" r="1.05"/><circle cx="294.1" cy="121.3" r="1.05"/><circle cx="297.9" cy="116.8" r="1.05"/><circle cx="297.9" cy="115.7" r="1.05"/><circle cx="298.9" cy="122.0" r="1.05"/><circle cx="300.1" cy="114.0" r="1.05"/><circle cx="295.8" cy="121.4" r="1.05"/><circle cx="299.1" cy="112.5" r="1.05"/><circle cx="294.6" cy="112.2" r="1.05"/><circle cx="297.1" cy="115.6" r="1.05"/><circle cx="298.1" cy="122.0" r="1.05"/><circle cx="294.3" cy="115.7" r="1.05"/><circle cx="293.8" cy="117.4" r="1.05"/><circle cx="296.9" cy="109.8" r="1.05"/><circle cx="298.1" cy="120.8" r="1.05"/><circle cx="296.2" cy="111.0" r="1.05"/><circle cx="295.3" cy="109.2" r="1.05"/><circle cx="299.0" cy="112.8" r="1.05"/><circle cx="294.4" cy="111.6" r="1.05"/><circle cx="298.7" cy="120.0" r="1.05"/><circle cx="299.8" cy="109.4" r="1.05"/><circle cx="298.6" cy="116.0" r="1.05"/><circle cx="298.0" cy="109.7" r="1.05"/><circle cx="294.2" cy="110.2" r="1.05"/><circle cx="298.4" cy="120.4" r="1.05"/><circle cx="295.3" cy="111.7" r="1.05"/><circle cx="297.6" cy="110.1" r="1.05"/><circle cx="295.3" cy="121.6" r="1.05"/><circle cx="294.9" cy="117.7" r="1.05"/><circle cx="298.2" cy="112.5" r="1.05"/><circle cx="299.1" cy="120.4" r="1.05"/><circle cx="298.3" cy="110.2" r="1.05"/><circle cx="299.3" cy="118.8" r="1.05"/><circle cx="293.3" cy="111.5" r="1.05"/><circle cx="294.3" cy="120.5" r="1.05"/><circle cx="293.7" cy="115.7" r="1.05"/><circle cx="297.3" cy="110.2" r="1.05"/><circle cx="293.6" cy="119.9" r="1.05"/><circle cx="294.1" cy="118.9" r="1.05"/><circle cx="297.8" cy="115.6" r="1.05"/><circle cx="295.7" cy="107.5" r="1.05"/><circle cx="294.9" cy="108.9" r="1.05"/><circle cx="294.8" cy="108.3" r="1.05"/><circle cx="299.1" cy="108.2" r="1.05"/><circle cx="293.5" cy="104.7" r="1.05"/></g>
<path d="M90.2 99.2 V95.5 H184.6 V99.2" fill="none" stroke="#333" stroke-width="0.8"/>
<text x="137.4" y="92.6" font-size="6.8" text-anchor="middle" fill="#111">p = 6.94e−10</text>
<path d="M90.2 84.0 V80.3 H278.6 V84.0" fill="none" stroke="#333" stroke-width="0.8"/>
<text x="184.4" y="77.7" font-size="6.8" text-anchor="middle" fill="#111">p = &lt; 1e−20</text>
<path d="M184.2 69.8 V66.1 H278.6 V69.8" fill="none" stroke="#333" stroke-width="0.8"/>
<text x="231.4" y="63.7" font-size="6.8" text-anchor="middle" fill="#111">p = 1.84e−06</text>
<text transform="translate(71.5 267.6) scale(1 1.08)" font-size="8.9" font-weight="bold" text-anchor="middle">Not−III</text>
<text transform="translate(109.2 267.6) scale(1 1.08)" font-size="8.9" font-weight="bold" text-anchor="middle">III</text>
<text transform="translate(165.25 267.6) scale(1 1.08)" font-size="8.9" font-weight="bold" text-anchor="middle">Not−III</text>
<text transform="translate(203.1 267.6) scale(1 1.08)" font-size="8.9" font-weight="bold" text-anchor="middle">III</text>
<text transform="translate(259.1 267.6) scale(1 1.08)" font-size="8.9" font-weight="bold" text-anchor="middle">Not−III</text>
<text transform="translate(296.9 267.6) scale(1 1.08)" font-size="8.9" font-weight="bold" text-anchor="middle">III</text>
<line x1="375.5" y1="27.6" x2="375.5" y2="279.5" stroke="#333333" stroke-width="1.07"/>
<line x1="375" y1="279" x2="527.6" y2="279" stroke="#333333" stroke-width="1.07"/>
<line x1="532.3" y1="279" x2="685" y2="279" stroke="#333333" stroke-width="1.07"/>
<line x1="375.5" y1="267.50" x2="378.2" y2="267.50" stroke="#333333" stroke-width="1.07"/>
<text x="372.9" y="270.60" font-size="8.8" fill="#4D4D4D" text-anchor="end">0</text>
<line x1="375.5" y1="218.00" x2="378.2" y2="218.00" stroke="#333333" stroke-width="1.07"/>
<text x="372.9" y="221.10" font-size="8.8" fill="#4D4D4D" text-anchor="end">50</text>
<line x1="375.5" y1="168.50" x2="378.2" y2="168.50" stroke="#333333" stroke-width="1.07"/>
<text x="372.9" y="171.60" font-size="8.8" fill="#4D4D4D" text-anchor="end">100</text>
<line x1="375.5" y1="119.00" x2="378.2" y2="119.00" stroke="#333333" stroke-width="1.07"/>
<text x="372.9" y="122.10" font-size="8.8" fill="#4D4D4D" text-anchor="end">150</text>
<line x1="375.5" y1="69.50" x2="378.2" y2="69.50" stroke="#333333" stroke-width="1.07"/>
<text x="372.9" y="72.60" font-size="8.8" fill="#4D4D4D" text-anchor="end">200</text>
<rect x="382.30" y="238.79" width="42.80" height="28.71" fill="#A6D854"/>
<line x1="403.7" y1="279" x2="403.7" y2="275.9" stroke="#333333" stroke-width="1.07"/>
<text transform="translate(403.7 287.6) scale(1 1.07)" font-size="9" fill="#4D4D4D" text-anchor="middle">7to12 mths</text>
<rect x="430.00" y="188.30" width="42.80" height="79.20" fill="#FDB462"/>
<line x1="451.4" y1="279" x2="451.4" y2="275.9" stroke="#333333" stroke-width="1.07"/>
<text transform="translate(451.4 287.6) scale(1 1.07)" font-size="9" fill="#4D4D4D" text-anchor="middle">1to2years</text>
<rect x="477.70" y="167.51" width="42.80" height="99.99" fill="#80B1D3"/>
<line x1="499.1" y1="279" x2="499.1" y2="275.9" stroke="#333333" stroke-width="1.07"/>
<text transform="translate(499.1 287.6) scale(1 1.07)" font-size="9" fill="#4D4D4D" text-anchor="middle">plus2years</text>
<rect x="539.80" y="209.09" width="42.80" height="58.41" fill="#A6D854"/>
<line x1="561.2" y1="279" x2="561.2" y2="275.9" stroke="#333333" stroke-width="1.07"/>
<text transform="translate(561.2 287.6) scale(1 1.07)" font-size="9" fill="#4D4D4D" text-anchor="middle">7to12 mths</text>
<rect x="587.45" y="68.51" width="42.80" height="198.99" fill="#FDB462"/>
<line x1="608.85" y1="279" x2="608.85" y2="275.9" stroke="#333333" stroke-width="1.07"/>
<text transform="translate(608.85 287.6) scale(1 1.07)" font-size="9" fill="#4D4D4D" text-anchor="middle">1to2years</text>
<rect x="635.10" y="111.08" width="42.80" height="156.42" fill="#80B1D3"/>
<line x1="656.5" y1="279" x2="656.5" y2="275.9" stroke="#333333" stroke-width="1.07"/>
<text transform="translate(656.5 287.6) scale(1 1.07)" font-size="9" fill="#4D4D4D" text-anchor="middle">plus2years</text>
<text x="451.5" y="163.2" font-size="11" font-weight="bold" text-anchor="middle">Not−III</text>
<text x="609.1" y="58.9" font-size="11" font-weight="bold" text-anchor="middle">III</text>
<text x="530" y="299.6" font-size="10.3" text-anchor="middle">Age Group</text>
<text transform="translate(353.9 153.3) rotate(-90)" font-size="10.3" text-anchor="middle">Number of Children</text>
</svg>
</body></html>
